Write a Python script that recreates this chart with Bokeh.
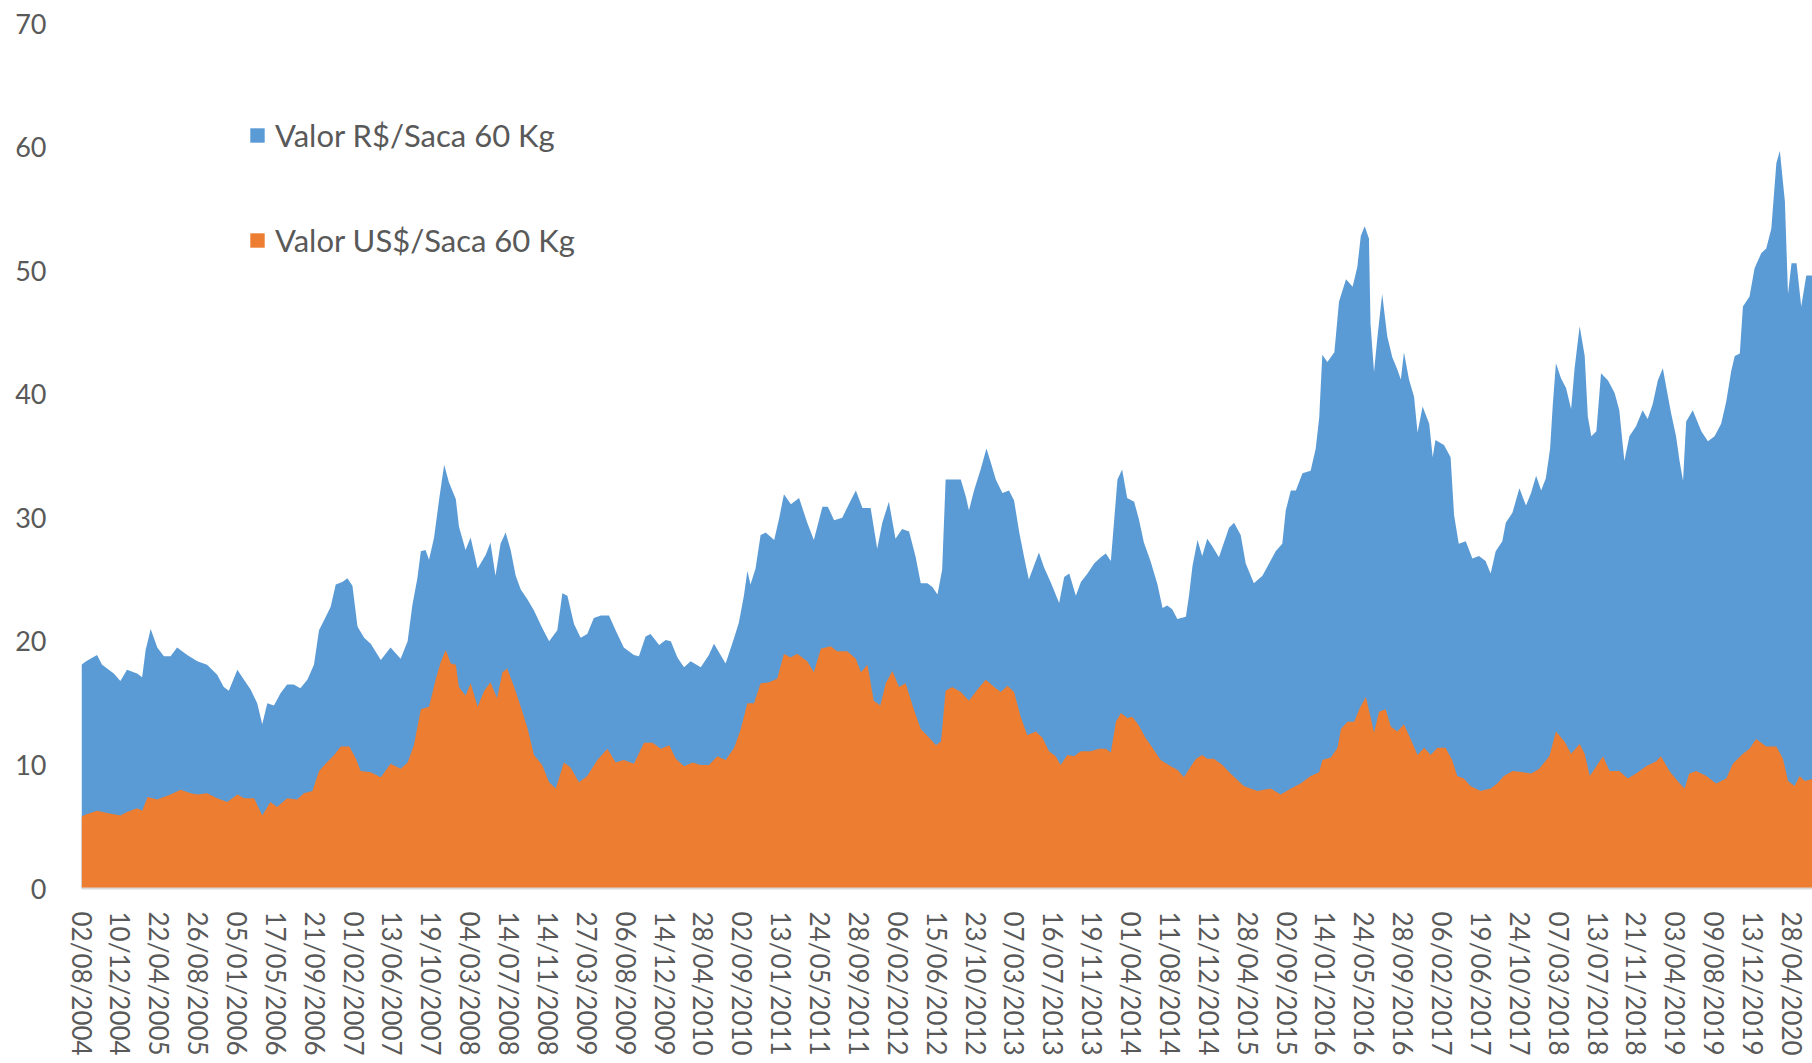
from bokeh.plotting import figure
from bokeh.models import Range1d, FixedTicker, Legend, LegendItem, ColumnDataSource
from bokeh.embed import file_html
from bokeh.resources import INLINE

# Tick labels (one every N trading days on the category axis)
dates = ["02/08/2004", "10/12/2004", "22/04/2005", "26/08/2005", "05/01/2006", "17/05/2006",
         "21/09/2006", "01/02/2007", "13/06/2007", "19/10/2007", "04/03/2008", "14/07/2008",
         "14/11/2008", "27/03/2009", "06/08/2009", "14/12/2009", "28/04/2010", "02/09/2010",
         "13/01/2011", "24/05/2011", "28/09/2011", "06/02/2012", "15/06/2012", "23/10/2012",
         "07/03/2013", "16/07/2013", "19/11/2013", "01/04/2014", "11/08/2014", "12/12/2014",
         "28/04/2015", "02/09/2015", "14/01/2016", "24/05/2016", "28/09/2016", "06/02/2017",
         "19/06/2017", "24/10/2017", "07/03/2018", "13/07/2018", "21/11/2018", "03/04/2019",
         "09/08/2019", "13/12/2019", "28/04/2020"]

# R$ per 60 kg bag: sample position (in tick-label units along the date axis) and value
brl_pos = [0.00, 0.12, 0.23, 0.40, 0.53, 0.66, 0.83, 1.00, 1.17, 1.43, 1.56, 1.65, 1.78, 1.95, 2.12,
           2.29, 2.46, 2.72, 2.98, 3.23, 3.49, 3.66, 3.79, 4.01, 4.18, 4.35, 4.52, 4.65, 4.78, 4.95,
           5.12, 5.29, 5.46, 5.63, 5.81, 5.98, 6.11, 6.24, 6.41, 6.54, 6.71, 6.84, 6.97, 7.10, 7.27,
           7.44, 7.70, 7.95, 8.21, 8.39, 8.51, 8.64, 8.73, 8.85, 8.94, 9.07, 9.20, 9.33, 9.45, 9.63,
           9.71, 9.88, 10.01, 10.19, 10.40, 10.52, 10.65, 10.78, 10.91, 11.04, 11.17, 11.30, 11.47,
           11.64, 11.85, 12.03, 12.24, 12.37, 12.50, 12.67, 12.84, 13.01, 13.18, 13.36, 13.57, 13.74,
           13.95, 14.21, 14.34, 14.51, 14.64, 14.86, 15.03, 15.16, 15.33, 15.50, 15.67, 15.93, 16.14,
           16.27, 16.44, 16.57, 16.79, 16.91, 17.04, 17.13, 17.21, 17.34, 17.47, 17.60, 17.82, 17.95,
           18.07, 18.25, 18.46, 18.67, 18.84, 19.06, 19.20, 19.36, 19.57, 19.74, 19.92, 20.09, 20.30,
           20.47, 20.60, 20.77, 20.94, 21.11, 21.29, 21.46, 21.59, 21.76, 21.89, 22.02, 22.14, 22.23,
           22.44, 22.62, 22.75, 22.83, 22.96, 23.13, 23.28, 23.39, 23.52, 23.69, 23.86, 23.99, 24.12,
           24.25, 24.37, 24.50, 24.63, 24.76, 24.93, 25.15, 25.28, 25.41, 25.58, 25.71, 25.88, 26.05,
           26.22, 26.35, 26.48, 26.56, 26.65, 26.77, 26.90, 27.08, 27.20, 27.33, 27.50, 27.68, 27.81,
           27.93, 28.06, 28.19, 28.41, 28.49, 28.58, 28.71, 28.83, 28.96, 29.09, 29.26, 29.39, 29.52,
           29.65, 29.82, 29.95, 30.16, 30.38, 30.55, 30.72, 30.89, 30.98, 31.11, 31.24, 31.41, 31.62,
           31.75, 31.84, 31.92, 32.05, 32.23, 32.35, 32.53, 32.70, 32.82, 32.91, 33.01, 33.12, 33.16,
           33.25, 33.34, 33.46, 33.59, 33.72, 33.85, 33.94, 34.02, 34.15, 34.28, 34.37, 34.50, 34.67,
           34.76, 34.83, 35.05, 35.22, 35.31, 35.43, 35.61, 35.78, 35.95, 36.12, 36.25, 36.38, 36.55,
           36.64, 36.81, 36.99, 37.16, 37.29, 37.42, 37.55, 37.67, 37.78, 37.85, 37.93, 38.06, 38.19,
           38.32, 38.41, 38.54, 38.67, 38.75, 38.84, 38.97, 39.09, 39.27, 39.44, 39.56, 39.69, 39.82,
           39.99, 40.16, 40.29, 40.42, 40.55, 40.68, 40.76, 40.89, 41.02, 41.11, 41.20, 41.28, 41.45,
           41.67, 41.84, 42.01, 42.18, 42.31, 42.44, 42.53, 42.66, 42.74, 42.91, 43.04, 43.21, 43.34,
           43.47, 43.60, 43.69, 43.82, 43.90, 43.99, 44.12, 44.24, 44.37, 44.55]
brl_val = [18.1, 18.4, 18.6, 18.9, 18.1, 17.8, 17.4, 16.8, 17.7, 17.4, 17.1, 19.3, 21.0, 19.5, 18.8,
           18.8, 19.5, 18.9, 18.4, 18.1, 17.3, 16.3, 16.0, 17.7, 16.9, 16.1, 15.0, 13.3, 15.0, 14.8,
           15.8, 16.5, 16.5, 16.2, 16.9, 18.1, 20.9, 21.7, 22.8, 24.6, 24.8, 25.1, 24.5, 21.2, 20.3,
           19.8, 18.5, 19.5, 18.6, 20.0, 22.9, 25.1, 27.3, 27.4, 26.6, 28.4, 31.5, 34.3, 32.9, 31.5,
           29.3, 27.4, 28.4, 25.9, 27.0, 28.0, 25.3, 27.9, 28.8, 27.4, 25.3, 24.2, 23.4,
           22.5, 21.1, 20.0, 20.9, 23.9, 23.7, 21.4, 20.3, 20.6, 21.9, 22.1, 22.1, 20.9,
           19.5, 18.9, 18.8, 20.4, 20.6, 19.7, 20.1, 20.0, 18.7, 17.9, 18.4, 17.9, 18.9,
           19.8, 18.9, 18.2, 20.3, 21.5, 23.7, 25.7, 24.6, 25.9, 28.6, 28.8, 28.2, 30.0,
           31.9, 31.1, 31.6, 29.6, 28.2, 30.9, 30.9, 29.8, 30.0, 31.1, 32.2, 30.8, 30.8,
           27.5, 29.6, 31.3, 28.3, 29.1, 28.9, 26.8, 24.7, 24.7, 24.4, 23.8, 25.8, 33.1,
           33.1, 33.1, 31.7, 30.6, 32.2, 33.9, 35.6, 34.5, 33.1, 32.0, 32.2, 31.4, 28.9,
           26.8, 25.0, 26.1, 27.2, 26.0, 24.8, 23.1, 25.2, 25.5, 23.7, 24.8, 25.5, 26.3,
           26.8, 27.1, 26.5, 29.6, 33.1, 33.9, 31.6, 31.3, 29.9, 28.0, 26.5, 24.6, 22.7,
           22.9, 22.6, 21.8, 22.0, 23.7, 26.1, 28.2, 26.9, 28.3, 27.7, 26.8, 28.0, 29.2,
           29.6, 28.6, 26.3, 24.7, 25.3, 26.3, 27.3, 27.9, 30.6, 32.2, 32.2, 33.6, 33.8,
           35.6, 38.1, 43.2, 42.6, 43.4, 47.5, 49.3, 48.7, 50.3, 52.8, 53.6, 52.6, 45.7,
           41.8, 44.7, 48.1, 44.7, 43.0, 42.0, 41.2, 43.4, 41.2, 39.8, 36.9, 39.0, 37.6,
           34.9, 36.3, 35.9, 34.9, 30.2, 27.9, 28.1, 26.7, 26.9, 26.5, 25.5, 27.3, 28.1,
           29.6, 30.4, 32.4, 31.0, 32.0, 33.4, 32.2, 33.2, 35.6, 39.2, 42.5, 41.3, 40.5,
           38.8, 42.1, 45.5, 43.1, 38.2, 36.6, 37.0, 41.7, 41.1, 40.1, 38.7, 34.6, 36.6,
           37.4, 38.7, 38.0, 39.2, 41.1, 42.1, 40.7, 38.5, 36.6, 34.6, 33.0, 37.8, 38.7,
           37.0, 36.2, 36.6, 37.6, 39.4, 41.9, 43.1, 43.3, 47.1, 47.9, 50.2, 51.4, 51.8,
           53.4, 58.7, 59.7, 55.6, 48.1, 50.6, 50.6, 47.1, 49.6, 49.6]

# US$ per 60 kg bag
usd_pos = [0.00, 0.12, 0.23, 0.40, 0.66, 1.00, 1.17, 1.43, 1.56, 1.70, 1.95, 2.12, 2.29, 2.55, 2.81,
           2.98, 3.23, 3.49, 3.75, 4.01, 4.18, 4.44, 4.65, 4.86, 5.03, 5.29, 5.55, 5.72, 5.94, 6.11,
           6.28, 6.50, 6.67, 6.89, 7.06, 7.18, 7.44, 7.70, 7.95, 8.21, 8.39, 8.55, 8.73, 8.94, 9.11,
           9.24, 9.37, 9.50, 9.63, 9.71, 9.88, 10.01, 10.19, 10.36, 10.52, 10.69, 10.83, 10.95, 11.13,
           11.30, 11.47, 11.64, 11.85, 12.03, 12.20, 12.41, 12.58, 12.80, 13.01, 13.27, 13.53, 13.74,
           13.95, 14.21, 14.47, 14.69, 14.90, 15.12, 15.29, 15.50, 15.72, 15.93, 16.14, 16.36, 16.57,
           16.79, 16.96, 17.13, 17.30, 17.47, 17.69, 17.90, 18.07, 18.24, 18.41, 18.67, 18.84, 19.02,
           19.27, 19.44, 19.70, 19.92, 20.05, 20.22, 20.38, 20.55, 20.69, 20.86, 21.03, 21.20, 21.41,
           21.59, 21.81, 21.98, 22.11, 22.23, 22.40, 22.62, 22.83, 23.05, 23.26, 23.48, 23.65, 23.82,
           23.99, 24.16, 24.33, 24.55, 24.72, 24.89, 25.06, 25.19, 25.36, 25.53, 25.71, 25.96, 26.18,
           26.35, 26.48, 26.61, 26.74, 26.90, 27.03, 27.20, 27.37, 27.55, 27.76, 28.02, 28.19, 28.36,
           28.54, 28.67, 28.83, 28.96, 29.13, 29.35, 29.56, 29.90, 30.25, 30.59, 30.85, 31.11, 31.36,
           31.62, 31.84, 31.92, 32.14, 32.31, 32.40, 32.57, 32.74, 32.87, 33.04, 33.16, 33.25, 33.38,
           33.55, 33.68, 33.85, 34.02, 34.19, 34.37, 34.54, 34.71, 34.88, 35.09, 35.26, 35.39, 35.56,
           35.73, 35.99, 36.25, 36.42, 36.59, 36.82, 37.10, 37.30, 37.50, 37.76, 37.93, 38.15, 38.32,
           38.54, 38.67, 38.80, 38.97, 39.14, 39.31, 39.56, 39.78, 39.99, 40.25, 40.51, 40.63, 40.85,
           41.06, 41.24, 41.36, 41.54, 41.80, 42.05, 42.31, 42.48, 42.74, 42.91, 43.08, 43.34, 43.60,
           43.77, 43.90, 44.07, 44.20, 44.33, 44.55]
usd_val = [5.8, 6.0, 6.1, 6.3, 6.1, 5.9, 6.2, 6.5, 6.3, 7.4, 7.2, 7.4, 7.6, 8.0, 7.7,
           7.6, 7.7, 7.3, 7.0, 7.6, 7.3, 7.3, 5.9, 7.0, 6.6, 7.3, 7.2, 7.7, 7.9, 9.5,
           10.1, 10.8, 11.5, 11.5, 10.5, 9.5, 9.4, 9.0, 10.1, 9.7, 10.2, 11.6, 14.5, 14.7, 16.9,
           18.3, 19.3, 18.2, 18.1, 16.3, 15.6, 16.6, 14.7, 16.0, 16.7, 15.4, 17.5, 17.8, 16.3,
           14.7, 13.0, 10.8, 10.0, 8.6, 8.1, 10.2, 9.8, 8.6, 9.1, 10.4, 11.3, 10.2,
           10.4, 10.1, 11.8, 11.8, 11.3, 11.6, 10.5, 9.9, 10.2, 10.0, 10.0, 10.7, 10.4,
           11.4, 12.9, 15.0, 15.0, 16.6, 16.7, 17.0, 19.0, 18.7, 19.0, 18.4, 17.5, 19.4,
           19.6, 19.2, 19.2, 18.6, 17.5, 18.1, 15.2, 14.8, 16.6, 17.6, 16.3, 16.6, 14.5,
           12.9, 12.2, 11.6, 11.9, 16.0, 16.3, 15.9, 15.2, 16.1, 16.9, 16.3, 15.9, 16.4,
           15.9, 13.9, 12.4, 12.7, 12.2, 11.1, 10.7, 10.0, 10.8, 10.7, 11.1, 11.1, 11.3,
           11.3, 11.0, 13.5, 14.2, 13.8, 13.9, 13.2, 12.2, 11.4, 10.4, 9.9, 9.6, 9.0,
           9.9, 10.5, 10.8, 10.5, 10.5, 10.0, 9.3, 8.3, 7.9, 8.1, 7.6, 8.1, 8.5,
           9.1, 9.4, 10.4, 10.6, 11.4, 12.9, 13.5, 13.5, 14.5, 15.5, 13.9, 12.6, 14.3,
           14.5, 13.1, 12.7, 13.3, 12.1, 10.8, 11.4, 10.8, 11.4, 11.4, 10.4, 9.1, 8.9,
           8.3, 7.9, 8.1, 8.5, 9.1, 9.5, 9.4, 9.3, 9.7, 10.7, 12.7, 11.9, 10.9,
           11.7, 10.9, 9.1, 9.9, 10.7, 9.5, 9.5, 8.9, 9.3, 9.9, 10.3, 10.7, 9.5,
           8.7, 8.1, 9.3, 9.5, 9.1, 8.5, 8.9, 10.1, 10.9, 11.3, 12.1, 11.5, 11.5,
           10.5, 8.7, 8.3, 9.1, 8.7, 8.9]

y_ticks = [0, 10, 20, 30, 40, 50, 60, 70]

BLUE = "#5B9BD5"
ORANGE = "#ED7D31"
TXT = "#595959"
FONT = "Lato"

p = figure(width=1812, height=1063, output_backend="svg", toolbar_location=None,
           x_range=Range1d(0, 44.53), y_range=Range1d(0, 70),
           min_border_left=81, min_border_right=0, min_border_top=23, min_border_bottom=175)
p.outline_line_color = None
p.xgrid.visible = False
p.ygrid.visible = False
p.background_fill_color = "white"
p.border_fill_color = "white"

src_b = ColumnDataSource(dict(x=brl_pos, y=brl_val, z=[0] * len(brl_val)))
src_o = ColumnDataSource(dict(x=usd_pos, y=usd_val, z=[0] * len(usd_val)))
rb = p.varea(x="x", y1="z", y2="y", source=src_b, fill_color=BLUE)
ro = p.varea(x="x", y1="z", y2="y", source=src_o, fill_color=ORANGE)

xa = p.xaxis[0]
xa.ticker = FixedTicker(ticks=list(range(len(dates))))
xa.major_label_overrides = {i: d for i, d in enumerate(dates)}
xa.major_label_orientation = "vertical"
xa.major_tick_line_color = None
xa.major_tick_out = 0
xa.minor_tick_line_color = None
xa.axis_line_color = "#D9D9D9"
xa.axis_line_width = 2
xa.major_label_text_font = FONT
xa.major_label_text_font_size = "26px"
xa.major_label_text_color = TXT
xa.major_label_standoff = 23

ya = p.yaxis[0]
ya.ticker = FixedTicker(ticks=y_ticks)
ya.axis_line_color = None
ya.major_tick_line_color = None
ya.major_tick_out = 0
ya.minor_tick_line_color = None
ya.major_label_text_font = FONT
ya.major_label_text_font_size = "27px"
ya.major_label_text_color = TXT
ya.major_label_standoff = 35

legend = Legend(items=[LegendItem(label="Valor R$/Saca 60 Kg", renderers=[rb]),
                       LegendItem(label="Valor US$/Saca 60 Kg", renderers=[ro])],
                location=(167, 629), orientation="vertical",
                glyph_width=18, glyph_height=18, label_standoff=9, spacing=67,
                padding=0, margin=0, border_line_alpha=0, background_fill_alpha=0,
                label_text_font=FONT, label_text_font_size="31px", label_text_color=TXT)
p.add_layout(legend)

open("out.html", "w").write(file_html(p, INLINE))
